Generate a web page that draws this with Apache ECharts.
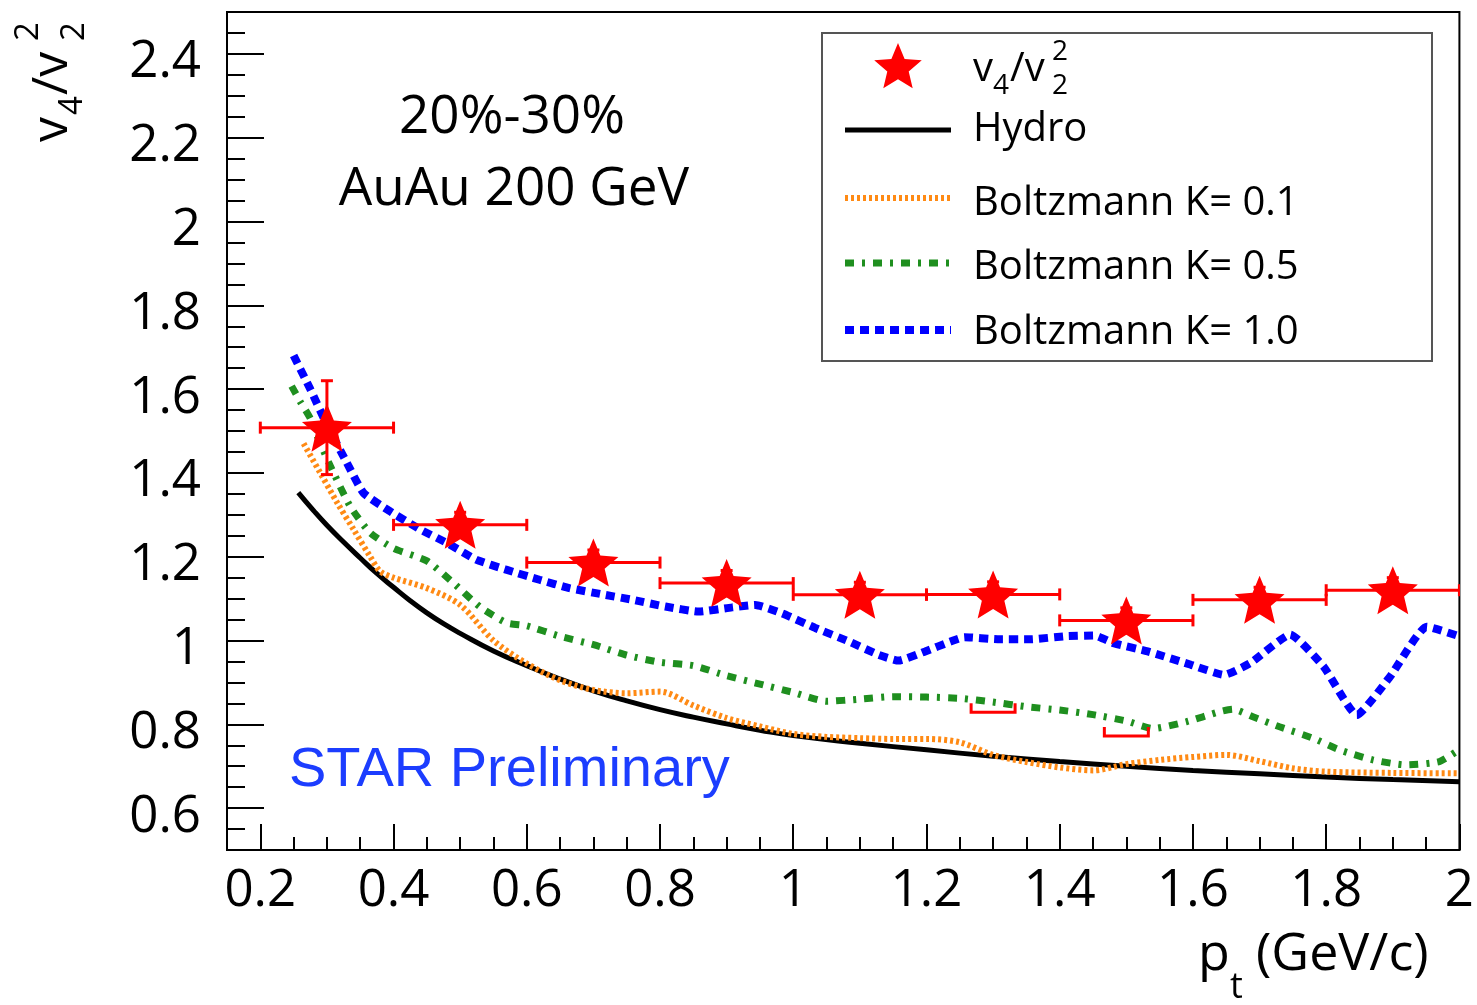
<!DOCTYPE html>
<html>
<head>
<meta charset="utf-8">
<script src="https://cdn.jsdelivr.net/npm/echarts@6/dist/echarts.min.js"></script>
<style>
  html, body { margin: 0; padding: 0; background: #fff; }
  #chart { width: 1477px; height: 1005px; }
</style>
</head>
<body>
<div id="chart"></div>
<script>
// STAR v4/v2^2 measurement, 20%-30% centrality, Au+Au at 200 GeV
const ptCenters   = [0.3, 0.5, 0.7, 0.9, 1.1, 1.3, 1.5, 1.7, 1.9];
const ptHalfWidth = [0.1, 0.1, 0.1, 0.1, 0.1, 0.1, 0.1, 0.1, 0.1];
const ratioValues = [1.508, 1.276, 1.186, 1.137, 1.109, 1.110, 1.048, 1.097, 1.120];
const ratioStatErr = [0.112, 0.03, 0.03, 0.03, 0.03, 0.03, 0.03, 0.03, 0.03];

// lower systematic brackets that show below the points
const sysPt    = [1.3, 1.5];
const sysLow   = [0.829, 0.772];
const sysHalfW = [0.033, 0.033];

// ideal hydrodynamics
const hydroPt = [0.257, 0.28, 0.3, 0.325, 0.35, 0.375, 0.4, 0.425, 0.45, 0.475, 0.5, 0.55, 0.6, 0.65, 0.7, 0.75, 0.8, 0.85, 0.9, 0.95, 1.0, 1.1, 1.2, 1.3, 1.4, 1.5, 1.6, 1.7, 1.8, 1.9, 2.0];
const hydroV  = [1.353, 1.31, 1.275, 1.235, 1.197, 1.16, 1.127, 1.095, 1.066, 1.04, 1.017, 0.975, 0.94, 0.908, 0.88, 0.856, 0.835, 0.817, 0.801, 0.786, 0.773, 0.755, 0.739, 0.724, 0.711, 0.7, 0.69, 0.682, 0.674, 0.668, 0.663];

// Boltzmann transport, K = 0.1
const boltz01Pt = [0.265, 0.29, 0.315, 0.34, 0.365, 0.38, 0.4, 0.45, 0.5, 0.55, 0.6, 0.65, 0.7, 0.75, 0.8, 0.85, 0.9, 0.95, 1.0, 1.05, 1.1, 1.15, 1.2, 1.25, 1.3, 1.35, 1.4, 1.45, 1.5, 1.55, 1.6, 1.65, 1.7, 1.75, 1.8, 1.9, 2.0];
const boltz01V  = [1.47, 1.40, 1.33, 1.265, 1.20, 1.165, 1.15, 1.125, 1.085, 1.0, 0.945, 0.905, 0.882, 0.874, 0.878, 0.845, 0.815, 0.795, 0.777, 0.77, 0.767, 0.765, 0.765, 0.757, 0.727, 0.71, 0.697, 0.69, 0.705, 0.715, 0.722, 0.727, 0.712, 0.695, 0.687, 0.684, 0.683];

// Boltzmann transport, K = 0.5
const boltz05Pt = [0.247, 0.26, 0.275, 0.29, 0.31, 0.335, 0.365, 0.4, 0.45, 0.49, 0.53, 0.57, 0.6, 0.65, 0.7, 0.75, 0.8, 0.85, 0.9, 0.95, 1.0, 1.05, 1.1, 1.15, 1.2, 1.25, 1.3, 1.35, 1.4, 1.45, 1.5, 1.54, 1.59, 1.64, 1.66, 1.69, 1.73, 1.78, 1.82, 1.87, 1.92, 1.97, 2.0];
const boltz05V  = [1.607, 1.57, 1.53, 1.47, 1.40, 1.32, 1.257, 1.22, 1.19, 1.137, 1.08, 1.042, 1.035, 1.01, 0.99, 0.965, 0.948, 0.94, 0.916, 0.896, 0.876, 0.855, 0.86, 0.866, 0.865, 0.862, 0.853, 0.842, 0.834, 0.823, 0.808, 0.79, 0.806, 0.83, 0.836, 0.818, 0.794, 0.767, 0.739, 0.715, 0.703, 0.711, 0.74];

// Boltzmann transport, K = 1.0
const boltz10Pt = [0.25, 0.275, 0.30, 0.33, 0.355, 0.395, 0.44, 0.48, 0.524, 0.569, 0.619, 0.664, 0.714, 0.759, 0.808, 0.858, 0.908, 0.943, 0.983, 1.033, 1.083, 1.128, 1.158, 1.198, 1.237, 1.257, 1.307, 1.357, 1.407, 1.452, 1.482, 1.532, 1.597, 1.647, 1.686, 1.746, 1.796, 1.846, 1.896, 1.951, 2.0];
const boltz10V  = [1.68, 1.60, 1.515, 1.424, 1.352, 1.308, 1.265, 1.233, 1.193, 1.169, 1.145, 1.125, 1.11, 1.097, 1.081, 1.069, 1.079, 1.085, 1.065, 1.03, 0.998, 0.966, 0.952, 0.974, 0.998, 1.008, 1.003, 1.003, 1.01, 1.012, 0.993, 0.974, 0.942, 0.918, 0.946, 1.014, 0.938, 0.822, 0.914, 1.033, 1.01];

// axis ticks
const xMajorTicks = [0.2, 0.4, 0.6, 0.8, 1, 1.2, 1.4, 1.6, 1.8, 2];
const xMinorTicks = [0.15, 0.25, 0.3, 0.35, 0.45, 0.5, 0.55, 0.65, 0.7, 0.75, 0.85, 0.9, 0.95, 1.05, 1.1, 1.15, 1.25, 1.3, 1.35, 1.45, 1.5, 1.55, 1.65, 1.7, 1.75, 1.85, 1.9, 1.95];
const yMajorTicks = [0.6, 0.8, 1, 1.2, 1.4, 1.6, 1.8, 2, 2.2, 2.4];
const yMinorTicks = [0.55, 0.65, 0.7, 0.75, 0.85, 0.9, 0.95, 1.05, 1.1, 1.15, 1.25, 1.3, 1.35, 1.45, 1.5, 1.55, 1.65, 1.7, 1.75, 1.85, 1.9, 1.95, 2.05, 2.1, 2.15, 2.25, 2.3, 2.35, 2.45];

const FONT = '"Open Sans", "Noto Sans", sans-serif';
const RED = '#ff0000';
const ORANGE = '#ff8a14';
const GREEN = '#1f8f1f';
const BLUE = '#0000ff';

const ORANGE_DASH = [3, 3];
const GREEN_DASH = [9, 8, 3, 8];
const BLUE_DASH = [9, 6];

// five-pointed star outline
function starPoints(cx, cy, rx, ry) {
  const pts = [];
  const inner = 0.45;
  for (let i = 0; i < 10; i++) {
    const a = -Math.PI / 2 + i * Math.PI / 5;
    const r = (i % 2 === 0) ? 1 : inner;
    pts.push([cx + rx * r * Math.cos(a), cy + ry * r * Math.sin(a)]);
  }
  return pts;
}
function starPath() {
  const pts = starPoints(50, 50, 50, 50);
  return 'path://M' + pts.map(p => p[0].toFixed(2) + ',' + p[1].toFixed(2)).join('L') + 'Z';
}

function zip(xs, ys) { return xs.map((x, i) => [x, ys[i]]); }

const pointData = ptCenters.map((x, i) => [x, ratioValues[i], ptHalfWidth[i], ratioStatErr[i]]);
const sysData = sysPt.map((x, i) => [x, sysLow[i], sysHalfW[i]]);

const chart = echarts.init(document.getElementById('chart'), null, { renderer: 'canvas' });

const axisFont = { fontFamily: FONT, fontSize: 51, color: '#000' };

const option = {
  animation: false,
  backgroundColor: '#fff',
  grid: {
    left: 227, top: 12, width: 1236, height: 838,
    show: true, borderColor: '#000', borderWidth: 2, backgroundColor: 'transparent'
  },
  xAxis: [
    {
      type: 'value', min: 0.15, max: 2,
      axisLine: { show: true, lineStyle: { color: '#000', width: 2 } },
      axisTick: { show: true, inside: true, length: 26, customValues: xMajorTicks, lineStyle: { color: '#000', width: 2 } },
      axisLabel: { show: true, customValues: xMajorTicks, margin: 16, ...axisFont },
      splitLine: { show: false }
    },
    {
      type: 'value', min: 0.15, max: 2, position: 'bottom',
      axisLine: { show: false },
      axisTick: { show: true, inside: true, length: 13, customValues: xMinorTicks, lineStyle: { color: '#000', width: 2 } },
      axisLabel: { show: false },
      splitLine: { show: false }
    }
  ],
  yAxis: [
    {
      type: 'value', min: 0.5, max: 2.5,
      axisLine: { show: true, lineStyle: { color: '#000', width: 2 } },
      axisTick: { show: true, inside: true, length: 37, customValues: yMajorTicks, lineStyle: { color: '#000', width: 2 } },
      axisLabel: {
        show: true, customValues: yMajorTicks, margin: 26,
        formatter: v => '{t|' + v + '}',
        rich: { t: { ...axisFont, padding: [18, 0, 0, 0] } }
      },
      splitLine: { show: false }
    },
    {
      type: 'value', min: 0.5, max: 2.5, position: 'left',
      axisLine: { show: false },
      axisTick: { show: true, inside: true, length: 18, customValues: yMinorTicks, lineStyle: { color: '#000', width: 2 } },
      axisLabel: { show: false },
      splitLine: { show: false }
    }
  ],
  series: [
    {
      name: 'Hydro', type: 'line', data: zip(hydroPt, hydroV), smooth: 0.5,
      showSymbol: false, clip: true, z: 2,
      lineStyle: { color: '#000', width: 5 }
    },
    {
      name: 'Boltzmann K= 0.1', type: 'line', data: zip(boltz01Pt, boltz01V), smooth: 0.3,
      showSymbol: false, clip: true, z: 3,
      lineStyle: { color: ORANGE, width: 6, type: ORANGE_DASH, cap: 'butt' }
    },
    {
      name: 'Boltzmann K= 0.5', type: 'line', data: zip(boltz05Pt, boltz05V), smooth: 0.2,
      showSymbol: false, clip: true, z: 4,
      lineStyle: { color: GREEN, width: 7, type: GREEN_DASH, cap: 'butt' }
    },
    {
      name: 'Boltzmann K= 1.0', type: 'line', data: zip(boltz10Pt, boltz10V), smooth: 0.15,
      showSymbol: false, clip: true, z: 5,
      lineStyle: { color: BLUE, width: 8, type: BLUE_DASH, cap: 'butt' }
    },
    {
      name: 'sys', type: 'custom', data: sysData, z: 6, clip: true,
      renderItem: function (params, api) {
        const l = api.coord([api.value(0) - api.value(2), api.value(1)]);
        const r = api.coord([api.value(0) + api.value(2), api.value(1)]);
        return {
          type: 'polyline',
          shape: { points: [[l[0], l[1] - 9], l, r, [r[0], r[1] - 9]] },
          style: { stroke: RED, lineWidth: 3, fill: null }
        };
      }
    },
    {
      name: 'errors', type: 'custom', data: pointData, z: 7, clip: true,
      renderItem: function (params, api) {
        const x = api.value(0), y = api.value(1), dx = api.value(2), dy = api.value(3);
        const l = api.coord([x - dx, y]);
        const r = api.coord([x + dx, y]);
        const t = api.coord([x, y + dy]);
        const b = api.coord([x, y - dy]);
        const st = { stroke: RED, lineWidth: 3 };
        return {
          type: 'group',
          children: [
            { type: 'line', shape: { x1: l[0], y1: l[1], x2: r[0], y2: r[1] }, style: st },
            { type: 'line', shape: { x1: l[0], y1: l[1] - 6, x2: l[0], y2: l[1] + 6 }, style: st },
            { type: 'line', shape: { x1: r[0], y1: r[1] - 6, x2: r[0], y2: r[1] + 6 }, style: st },
            { type: 'line', shape: { x1: t[0], y1: t[1], x2: b[0], y2: b[1] }, style: st },
            { type: 'line', shape: { x1: t[0] - 6, y1: t[1], x2: t[0] + 6, y2: t[1] }, style: st },
            { type: 'line', shape: { x1: b[0] - 6, y1: b[1], x2: b[0] + 6, y2: b[1] }, style: st }
          ]
        };
      }
    },
    {
      name: 'v4/v2^2', type: 'scatter', data: zip(ptCenters, ratioValues), z: 8,
      symbol: starPath(), symbolSize: [50, 48], symbolKeepAspect: false,
      itemStyle: { color: RED, opacity: 1 },
      emphasis: { disabled: true }
    }
  ],
  graphic: [
    // legend box
    { type: 'rect', shape: { x: 822, y: 33, width: 610, height: 328 }, style: { fill: '#fff', stroke: '#555', lineWidth: 2 }, z: 100 },
    { type: 'polygon', shape: { points: starPoints(898, 68, 25, 25) }, style: { fill: RED }, z: 101 },
    { type: 'text', x: 973, y: 70, style: { text: 'v', font: '40px ' + FONT, fill: '#000', verticalAlign: 'middle' }, z: 101 },
    { type: 'text', x: 993, y: 86, style: { text: '4', font: '28px ' + FONT, fill: '#000', verticalAlign: 'middle' }, z: 101 },
    { type: 'text', x: 1010, y: 70, style: { text: '/v', font: '40px ' + FONT, fill: '#000', verticalAlign: 'middle' }, z: 101 },
    { type: 'text', x: 1052, y: 52, style: { text: '2', font: '28px ' + FONT, fill: '#000', verticalAlign: 'middle' }, z: 101 },
    { type: 'text', x: 1052, y: 86, style: { text: '2', font: '28px ' + FONT, fill: '#000', verticalAlign: 'middle' }, z: 101 },
    { type: 'line', shape: { x1: 845, y1: 130, x2: 951, y2: 130 }, style: { stroke: '#000', lineWidth: 5 }, z: 101 },
    { type: 'text', x: 973, y: 130, style: { text: 'Hydro', font: '40px ' + FONT, fill: '#000', verticalAlign: 'middle' }, z: 101 },
    { type: 'line', shape: { x1: 845, y1: 198, x2: 951, y2: 198 }, style: { stroke: ORANGE, lineWidth: 6, lineDash: ORANGE_DASH }, z: 101 },
    { type: 'text', x: 973, y: 204, style: { text: 'Boltzmann K= 0.1', font: '40px ' + FONT, fill: '#000', verticalAlign: 'middle' }, z: 101 },
    { type: 'line', shape: { x1: 845, y1: 263, x2: 951, y2: 263 }, style: { stroke: GREEN, lineWidth: 7, lineDash: GREEN_DASH }, z: 101 },
    { type: 'text', x: 973, y: 268, style: { text: 'Boltzmann K= 0.5', font: '40px ' + FONT, fill: '#000', verticalAlign: 'middle' }, z: 101 },
    { type: 'line', shape: { x1: 845, y1: 330, x2: 951, y2: 330 }, style: { stroke: BLUE, lineWidth: 8, lineDash: BLUE_DASH }, z: 101 },
    { type: 'text', x: 973, y: 333, style: { text: 'Boltzmann K= 1.0', font: '40px ' + FONT, fill: '#000', verticalAlign: 'middle' }, z: 101 },

    // centrality and system
    { type: 'text', x: 512, y: 118, style: { text: '20%-30%', font: '53px ' + FONT, fill: '#000', align: 'center', verticalAlign: 'middle' }, z: 100 },
    { type: 'text', x: 514, y: 190, style: { text: 'AuAu 200 GeV', font: '53px ' + FONT, fill: '#000', align: 'center', verticalAlign: 'middle' }, z: 100 },
    { type: 'text', x: 289, y: 771, style: { text: 'STAR Preliminary', font: '56px "Liberation Sans", Arial, sans-serif', fill: '#1c3dff', verticalAlign: 'middle' }, z: 100 },

    // x axis title
    { type: 'text', x: 1198, y: 955, style: { text: 'p', font: '52px ' + FONT, fill: '#000', verticalAlign: 'middle' }, z: 100 },
    { type: 'text', x: 1230, y: 988, style: { text: 't', font: '36px ' + FONT, fill: '#000', verticalAlign: 'middle' }, z: 100 },
    { type: 'text', x: 1256, y: 955, style: { text: '(GeV/c)', font: '52px ' + FONT, fill: '#000', verticalAlign: 'middle' }, z: 100 },

    // y axis title, reading upward
    {
      type: 'group', x: 53, y: 142, rotation: Math.PI / 2, z: 100,
      children: [
        { type: 'text', x: 0, y: 0, style: { text: 'v', font: '50px ' + FONT, fill: '#000', verticalAlign: 'middle' } },
        { type: 'text', x: 27, y: 20, style: { text: '4', font: '33px ' + FONT, fill: '#000', verticalAlign: 'middle' } },
        { type: 'text', x: 47, y: 0, style: { text: '/v', font: '50px ' + FONT, fill: '#000', verticalAlign: 'middle' } },
        { type: 'text', x: 101, y: -24, style: { text: '2', font: '33px ' + FONT, fill: '#000', verticalAlign: 'middle' } },
        { type: 'text', x: 101, y: 22, style: { text: '2', font: '33px ' + FONT, fill: '#000', verticalAlign: 'middle' } }
      ]
    }
  ]
};

chart.setOption(option);
</script>
</body>
</html>
